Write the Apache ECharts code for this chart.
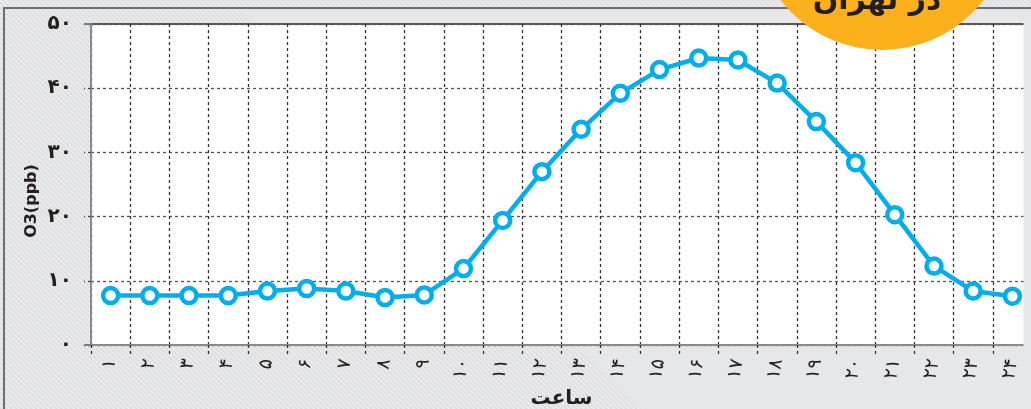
<!DOCTYPE html>
<html><head><meta charset="utf-8">
<script src="https://cdn.jsdelivr.net/npm/echarts@6/dist/echarts.min.js"></script>
<style>html,body{margin:0;padding:0;background:#e6e7e8}#c{width:1031px;height:409px}</style>
</head><body><div id="c"></div>
<script>
const hours = ['۱','۲','۳','۴','۵','۶','۷','۸','۹','۱۰','۱۱','۱۲','۱۳','۱۴','۱۵','۱۶','۱۷','۱۸','۱۹','۲۰','۲۱','۲۲','۲۳','۲۴'];
const o3 = [7.7, 7.7, 7.7, 7.7, 8.4, 8.8, 8.4, 7.4, 7.8, 11.9, 19.4, 27.0, 33.6, 39.2, 42.9, 44.7, 44.4, 40.8, 34.8, 28.4, 20.3, 12.3, 8.4, 7.6];
const yTickLabels = ['۰','۱۰','۲۰','۳۰','۴۰','۵۰'];
const badgeText = 'در تهران';
const xName = 'ساعت';
const yName = 'O3(ppb)';

function hatch() {
  const n = 5;
  const c = document.createElement('canvas'); c.width = n; c.height = n;
  const g = c.getContext('2d');
  g.fillStyle = '#dedfe0'; g.fillRect(0, 0, n, n);
  g.strokeStyle = '#eeeeef'; g.lineWidth = 1.3;
  g.beginPath();
  g.moveTo(-1, -1); g.lineTo(n + 1, n + 1);
  g.moveTo(-1, n - 1); g.lineTo(1, n + 1);
  g.moveTo(n - 1, -1); g.lineTo(n + 1, 1);
  g.stroke();
  return c;
}

const chart = echarts.init(document.getElementById('c'), null, {renderer: 'canvas'});
const FONT = '"DejaVu Sans", sans-serif';
chart.setOption({
  animation: false,
  backgroundColor: '#e6e7e8',
  grid: {left: 91, right: -1, top: 24, bottom: 64, show: true, backgroundColor: '#ffffff', borderWidth: 0,
    containLabel: false, outerBoundsMode: 'none'},
  xAxis: {
    type: 'category', data: hours, boundaryGap: true,
    axisLine: {lineStyle: {color: '#8a8b8d', width: 2}},
    axisTick: {show: true, interval: 0, length: 9, lineStyle: {type: [3, 3], color: '#333', width: 1.3}},
    axisLabel: {interval: 0, rotate: 80, margin: 14, fontSize: 19, color: '#231f20', fontFamily: FONT},
    splitLine: {show: true, interval: 0, lineStyle: {type: [3, 3], color: '#333', width: 1.3}},
    name: xName, nameLocation: 'middle', nameGap: 38,
    nameTextStyle: {fontSize: 20, fontWeight: 'bold', color: '#231f20', fontFamily: FONT}
  },
  yAxis: [{
    type: 'value', min: 0, max: 50, interval: 10,
    axisLine: {show: true, lineStyle: {color: '#8a8b8d', width: 2}},
    axisTick: {show: true, length: 7, lineStyle: {type: [3, 3], color: '#444', width: 1.3}},
    axisLabel: {margin: 19, fontSize: 20, fontWeight: 'bold', color: '#231f20', fontFamily: FONT,
      formatter: v => yTickLabels[Math.round(v / 10)]},
    splitLine: {show: true, lineStyle: {type: [3, 3], color: '#555', width: 1.3}}
  }, {
    type: 'value', min: 0, max: 50, interval: 50, position: 'left',
    axisLine: {show: false}, axisLabel: {show: false},
    axisTick: {show: true, length: 7, lineStyle: {color: '#7a7b7d', width: 2}},
    splitLine: {show: true, lineStyle: {color: ['#8a8b8d', '#58595b'], width: 2}}
  }],
  series: [{
    type: 'line', data: o3, yAxisIndex: 0, z: 5,
    lineStyle: {color: '#00aeef', width: 4.5},
    symbol: 'circle', symbolSize: 15, showAllSymbol: true,
    itemStyle: {color: '#ffffff', borderColor: '#00aeef', borderWidth: 4.5}
  }],
  graphic: [
    {type: 'polygon', z: -10, silent: true,
      shape: {points: [[0, 0], [1031, 0], [1031, 8], [240, 8], [641, 409], [0, 409]]},
      style: {fill: {image: hatch(), repeat: 'repeat'}}},
    {type: 'polyline', z: -9, silent: true,
      shape: {points: [[4, 409], [4, 8], [1031, 8]]},
      style: {stroke: '#6d6e71', lineWidth: 2, fill: null}},
    {type: 'rect', z: 1, silent: true,
      shape: {x: 1023.5, y: 10, width: 10, height: 399},
      style: {fill: '#e6e7e8'}},
    {type: 'circle', z: 100, silent: true,
      shape: {cx: 882, cy: -78, r: 128},
      style: {fill: '#fbb01c'}},
    {type: 'text', z: 101, silent: true, x: 877, y: 16,
      style: {text: badgeText, font: 'bold 30px ' + FONT, fill: '#231f20', align: 'center', verticalAlign: 'bottom'}},
    {type: 'text', z: 10, silent: true, x: 32, y: 201, rotation: Math.PI / 2,
      style: {text: yName, font: 'bold 16px ' + FONT, fill: '#231f20', align: 'center', verticalAlign: 'middle'}}
  ]
});
</script>
</body></html>
